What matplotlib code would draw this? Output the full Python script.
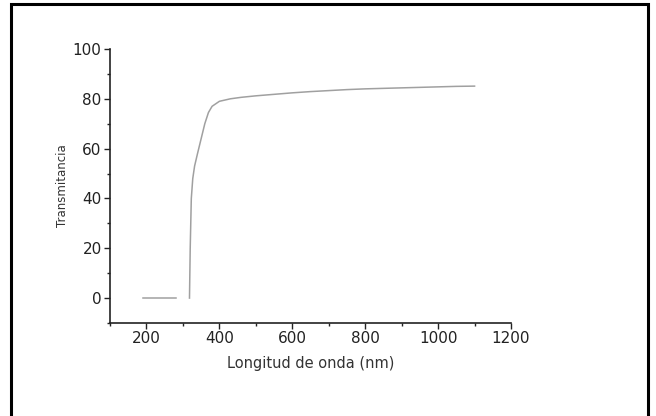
import numpy as np
import matplotlib.pyplot as plt
from matplotlib.patches import Rectangle
from matplotlib.ticker import MultipleLocator

plt.rcParams['font.family'] = ['DejaVu Sans']

# flat part (baseline) and the transmittance curve
base_nm = [190, 282]
base_t = [0, 0]
wave_nm = [318, 320, 323, 327, 332, 340, 350, 360, 370, 380, 400, 430, 460, 500,
           550, 600, 650, 700, 750, 800, 850, 900, 950, 1000, 1050, 1100]
trans = [0, 20, 40, 48, 53, 58, 64, 70, 74.5, 77, 79, 80, 80.6, 81.2,
         81.8, 82.4, 82.9, 83.3, 83.7, 84, 84.2, 84.4, 84.6, 84.8, 85, 85.1]

fig = plt.figure(figsize=(6.56, 4.16), dpi=100)
ax = fig.add_axes([0.1677, 0.2236, 0.6113, 0.6586])

ax.plot(base_nm, base_t, color='#a0a0a0', lw=1.1)
ax.plot(wave_nm, trans, color='#a0a0a0', lw=1.1)

ax.set_xlim(100, 1200)
ax.set_ylim(-10, 100)
ax.set_xticks([200, 400, 600, 800, 1000, 1200])
ax.set_yticks([0, 20, 40, 60, 80, 100])
ax.xaxis.set_minor_locator(MultipleLocator(100))
ax.yaxis.set_minor_locator(MultipleLocator(10))
ax.tick_params(which='major', direction='out', length=4, width=1, labelsize=11, pad=2, colors='#222222')
ax.tick_params(which='minor', direction='out', length=2, width=1, colors='#222222')

for s in ['top', 'right']:
    ax.spines[s].set_visible(False)
for s in ['left', 'bottom']:
    ax.spines[s].set_color('#222222')
    ax.spines[s].set_linewidth(1.2)

ax.set_xlabel('Longitud de onda (nm)', fontsize=10.5, color='#333333', labelpad=7)
ax.set_ylabel('Transmitancia', fontsize=8.5, color='#333333', labelpad=3)

# outer frame
fig.patches.append(Rectangle((0.0175, -0.05), 0.97, 1.04, transform=fig.transFigure,
                             fill=False, edgecolor='black', lw=2.2, clip_on=False))

fig.savefig('out.png', dpi=100)
